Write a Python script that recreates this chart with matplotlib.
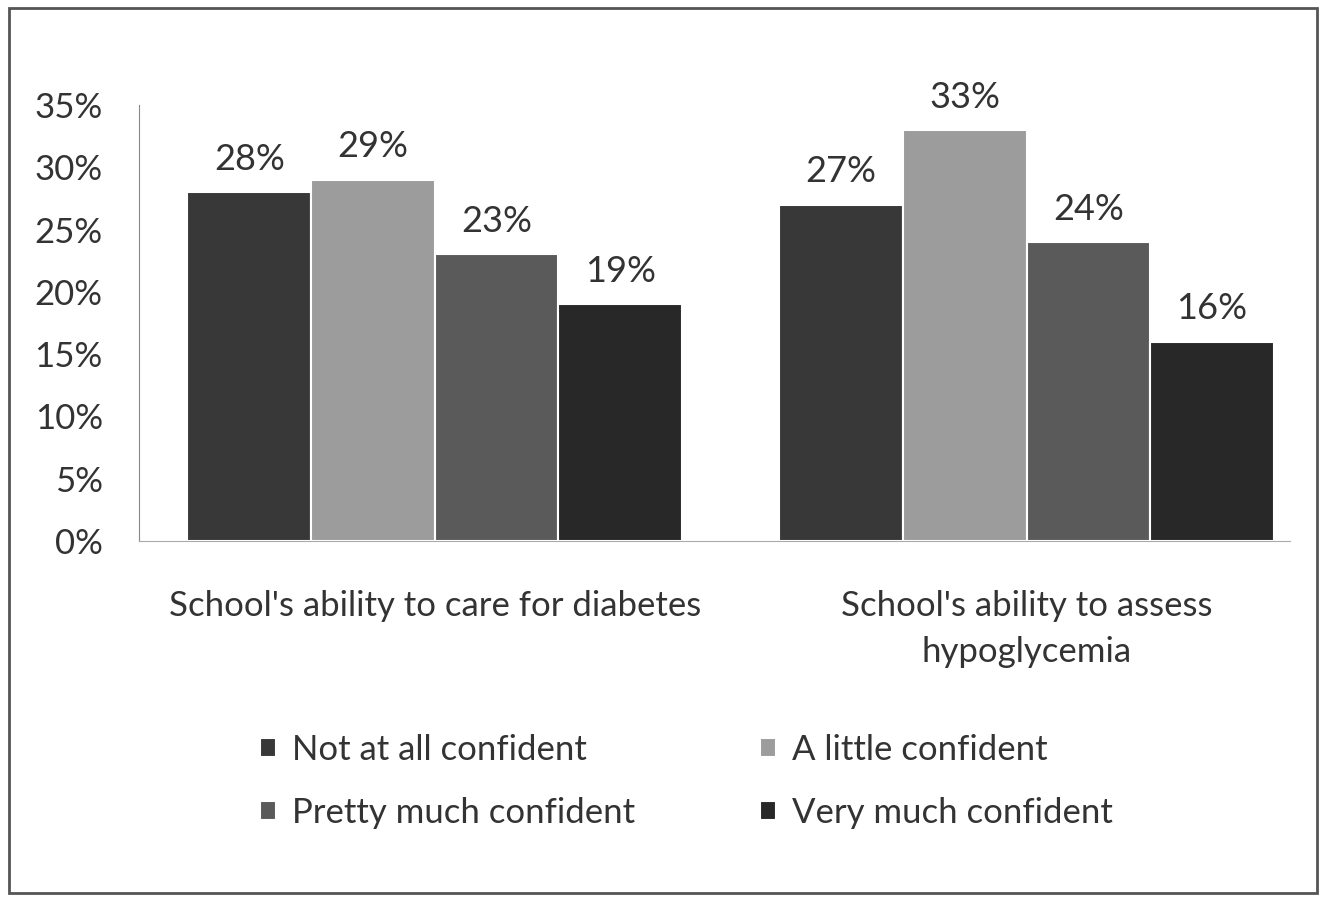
import matplotlib.pyplot as plt
from matplotlib.patches import Rectangle
import numpy as np

plt.rcParams['font.family'] = ['Lato', 'DejaVu Sans']

groups = ["School's ability to care for diabetes",
          "School's ability to assess\nhypoglycemia"]
levels = ["Not at all confident", "A little confident",
          "Pretty much confident", "Very much confident"]
values = [[28, 27],
          [29, 33],
          [23, 24],
          [19, 16]]
colors = ["#383838", "#9c9c9c", "#5a5a5a", "#282828"]
yticks = [0, 5, 10, 15, 20, 25, 30, 35]

fs = 25
txt = "#333333"

fig = plt.figure(figsize=(13.23, 8.97), dpi=100)
ax = fig.add_axes([0.105, 0.397, 0.870, 0.486])

x = np.arange(len(groups))
w = 0.209
handles = []
for i, (lvl, vals) in enumerate(zip(levels, values)):
    pos = x + (i - 1.5) * w
    bars = ax.bar(pos, vals, w, color=colors[i], edgecolor="white",
                  linewidth=1.5, label=lvl)
    handles.append(bars)
    for b, v in zip(bars, vals):
        ax.text(b.get_x() + b.get_width() / 2, v + 1.3, f"{v}%",
                ha="center", va="bottom", fontsize=fs + 1, color=txt)

ax.set_xlim(-0.5, 1.445)
ax.set_ylim(0, 35)
ax.set_yticks(yticks)
ax.set_yticklabels([f"{t}%" for t in yticks])
ax.set_xticks(x)
ax.set_xticklabels(groups)
ax.tick_params(axis="y", length=0, pad=26, labelsize=fs, labelcolor=txt)
ax.tick_params(axis="x", length=0, pad=35, labelsize=fs, labelcolor=txt)
for t in ax.get_xticklabels():
    t.set_linespacing(1.55)

for s in ["top", "right"]:
    ax.spines[s].set_visible(False)
ax.spines["left"].set_color("#888888")
ax.spines["bottom"].set_color("#aaaaaa")

# legend laid out row by row
order = [0, 2, 1, 3]
leg = fig.legend([handles[k] for k in order], [levels[k] for k in order],
                 loc="upper left", bbox_to_anchor=(0.173, 0.217), ncol=2,
                 frameon=False, fontsize=fs, handlelength=0.46,
                 handleheight=0.46, handletextpad=0.46, columnspacing=3.6,
                 labelspacing=0.9)
for t in leg.get_texts():
    t.set_color(txt)

# outer frame
fig.patches.append(Rectangle((9 / 1323, 4 / 897), 1308 / 1323, 885 / 897,
                             transform=fig.transFigure, fill=False,
                             edgecolor="#555555", linewidth=2))

fig.savefig("out.png", dpi=100)
